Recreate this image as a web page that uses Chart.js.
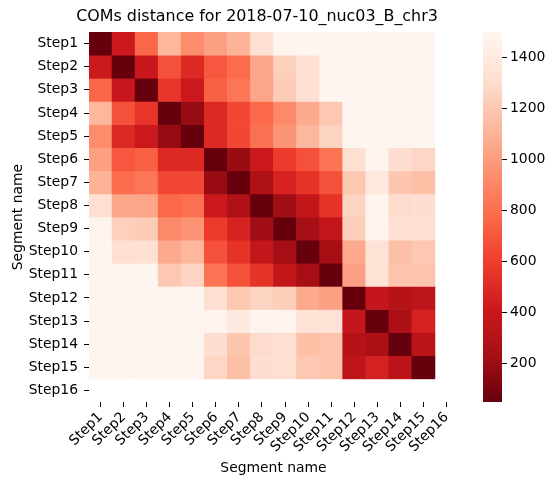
<!DOCTYPE html>
<html>
<head>
<meta charset="utf-8">
<script src="https://cdn.jsdelivr.net/npm/chart.js"></script>
<style>
  body { margin: 0; background: #fff; }
  #wrap { position: relative; width: 556px; height: 486px; }
  #heat { position: absolute; left: 0; top: 0; }
  #cbar { position: absolute; left: 470px; top: 0; }
</style>
</head>
<body>
<div id="wrap">
  <canvas id="heat" width="470" height="486"></canvas>
  <canvas id="cbar" width="86" height="486"></canvas>
</div>
<script>
// segment names (rows and columns)
const steps = ['Step1', 'Step2', 'Step3', 'Step4', 'Step5', 'Step6', 'Step7', 'Step8',
  'Step9', 'Step10', 'Step11', 'Step12', 'Step13', 'Step14', 'Step15', 'Step16'];

// COM distances, one array per row (null = no data)
const step1 = [0, 420, 760, 1120, 930, 1020, 1100, 1320, 1480, 1500, 1600, 1600, 1600, 1600, 1600, null];
const step2 = [420, 0, 400, 680, 500, 700, 790, 1050, 1240, 1320, 1600, 1600, 1600, 1600, 1600, null];
const step3 = [760, 400, 0, 560, 410, 740, 830, 1040, 1220, 1330, 1600, 1600, 1600, 1600, 1600, null];
const step4 = [1120, 680, 560, 0, 190, 500, 640, 770, 920, 1060, 1200, 1600, 1600, 1600, 1600, null];
const step5 = [930, 500, 410, 190, 0, 500, 640, 800, 970, 1120, 1260, 1600, 1600, 1600, 1600, null];
const step6 = [1020, 700, 740, 500, 500, 0, 200, 410, 590, 680, 820, 1320, 1480, 1310, 1270, null];
const step7 = [1100, 790, 830, 640, 640, 200, 0, 280, 470, 550, 680, 1200, 1400, 1190, 1160, null];
const step8 = [1320, 1050, 1040, 770, 800, 410, 280, 0, 220, 370, 550, 1260, 1480, 1300, 1310, null];
const step9 = [1480, 1240, 1220, 920, 970, 590, 470, 220, 0, 230, 370, 1230, 1480, 1320, 1320, null];
const step10 = [1500, 1320, 1330, 1060, 1120, 680, 550, 370, 230, 0, 240, 1060, 1340, 1160, 1200, null];
const step11 = [1600, 1600, 1600, 1200, 1260, 820, 680, 550, 370, 240, 0, 1020, 1340, 1180, 1180, null];
const step12 = [1600, 1600, 1600, 1600, 1600, 1320, 1200, 1260, 1230, 1060, 1020, 0, 380, 310, 350, null];
const step13 = [1600, 1600, 1600, 1600, 1600, 1480, 1400, 1480, 1480, 1340, 1340, 380, 0, 270, 460, null];
const step14 = [1600, 1600, 1600, 1600, 1600, 1310, 1190, 1300, 1320, 1160, 1180, 310, 270, 0, 330, null];
const step15 = [1600, 1600, 1600, 1600, 1600, 1270, 1160, 1310, 1320, 1200, 1180, 350, 460, 330, 0, null];
const step16 = [null, null, null, null, null, null, null, null, null, null, null, null, null, null, null, null];

const rows = [step1, step2, step3, step4, step5, step6, step7, step8,
  step9, step10, step11, step12, step13, step14, step15, step16];

// colour scale
const vmin = 50;
const vmax = 1500;
const cbarTicks = [200, 400, 600, 800, 1000, 1200, 1400];

// matplotlib "Reds"
const reds = [[255, 245, 240], [254, 224, 210], [252, 187, 161], [252, 146, 114],
  [251, 106, 74], [239, 59, 44], [203, 24, 29], [165, 15, 21], [103, 0, 13]];

function redsAt(p) {
  p = Math.min(1, Math.max(0, p));
  const f = p * (reds.length - 1);
  const i = Math.min(reds.length - 2, Math.floor(f));
  const t = f - i;
  const c = reds[i].map((v, k) => Math.round(v + (reds[i + 1][k] - v) * t));
  return `rgb(${c[0]},${c[1]},${c[2]})`;
}

// reversed: small distance = dark
function colorFor(v) {
  return redsAt((vmax - v) / (vmax - vmin));
}

const font = { family: 'DejaVu Sans', size: 13.9 };
const tickGrid = { display: true, drawOnChartArea: false, tickLength: 5, color: '#000', lineWidth: 1 };

// one floating-bar dataset per row
const datasets = rows.map((row, i) => ({
  label: steps[i],
  data: row.map(v => (v == null ? null : [i + 0.5, i + 1.5])),
  backgroundColor: row.map(v => (v == null ? 'rgba(0,0,0,0)' : colorFor(v))),
  borderWidth: 0,
  barPercentage: 1,
  categoryPercentage: 1,
  grouped: false,
}));

// title sits a bit left of the axes centre in the original
const shiftTitle = {
  id: 'shiftTitle',
  afterLayout(chart) {
    const tb = chart.titleBlock;
    if (tb) { tb.left = 56; tb.right = 458; tb.width = 402; }
  },
};

new Chart(document.getElementById('heat'), {
  type: 'bar',
  data: { labels: steps, datasets: datasets },
  plugins: [shiftTitle],
  options: {
    responsive: false,
    animation: false,
    layout: { padding: { left: 6, top: 6, right: 12, bottom: 5 } },
    plugins: {
      legend: { display: false },
      tooltip: { enabled: false },
      title: {
        display: true,
        text: 'COMs distance for 2018-07-10_nuc03_B_chr3',
        font: { family: 'DejaVu Sans', size: 15.9, weight: 'normal' },
        color: '#000',
        padding: { top: 1, bottom: 6 },
        fullSize: false,
      },
    },
    scales: {
      x: {
        type: 'category',
        offset: true,
        grid: Object.assign({ offset: false }, tickGrid),
        border: { display: false },
        ticks: { font: font, color: '#000', maxRotation: 45, minRotation: 45, autoSkip: false, padding: 2 },
        title: { display: true, text: 'Segment name', font: font, color: '#000', padding: 4 },
        afterFit: (scale) => { scale.height = 79; },
      },
      y: {
        type: 'linear',
        reverse: true,
        min: 0.5,
        max: 16.5,
        grid: tickGrid,
        border: { display: false },
        afterBuildTicks: (axis) => { axis.ticks = steps.map((s, i) => ({ value: i + 1 })); },
        ticks: { font: font, color: '#000', padding: 6, callback: (v) => steps[v - 1] },
        title: { display: true, text: 'Segment name', font: font, color: '#000', padding: 4 },
        afterFit: (scale) => { scale.width = 83; },
      },
    },
  },
});

// colour bar
new Chart(document.getElementById('cbar'), {
  type: 'bar',
  data: {
    labels: [''],
    datasets: [{
      data: [[vmin, vmax]],
      barPercentage: 1,
      categoryPercentage: 1,
      borderWidth: 0,
      backgroundColor: (ctx) => {
        const area = ctx.chart.chartArea;
        if (!area) return '#fff';
        const g = ctx.chart.ctx.createLinearGradient(0, area.bottom, 0, area.top);
        for (let k = 0; k <= 16; k++) g.addColorStop(k / 16, redsAt(1 - k / 16));
        return g;
      },
    }],
  },
  options: {
    responsive: false,
    animation: false,
    layout: { padding: { left: 13, top: 32, right: 0, bottom: 84 } },
    plugins: { legend: { display: false }, tooltip: { enabled: false } },
    scales: {
      x: { display: false },
      y: {
        position: 'right',
        min: vmin,
        max: vmax,
        grid: tickGrid,
        border: { display: false },
        afterBuildTicks: (axis) => { axis.ticks = cbarTicks.map(v => ({ value: v })); },
        ticks: { font: font, color: '#000', padding: 3, callback: (v) => String(v) },
        afterFit: (scale) => { scale.width = 54; },
      },
    },
  },
});
</script>
</body>
</html>
